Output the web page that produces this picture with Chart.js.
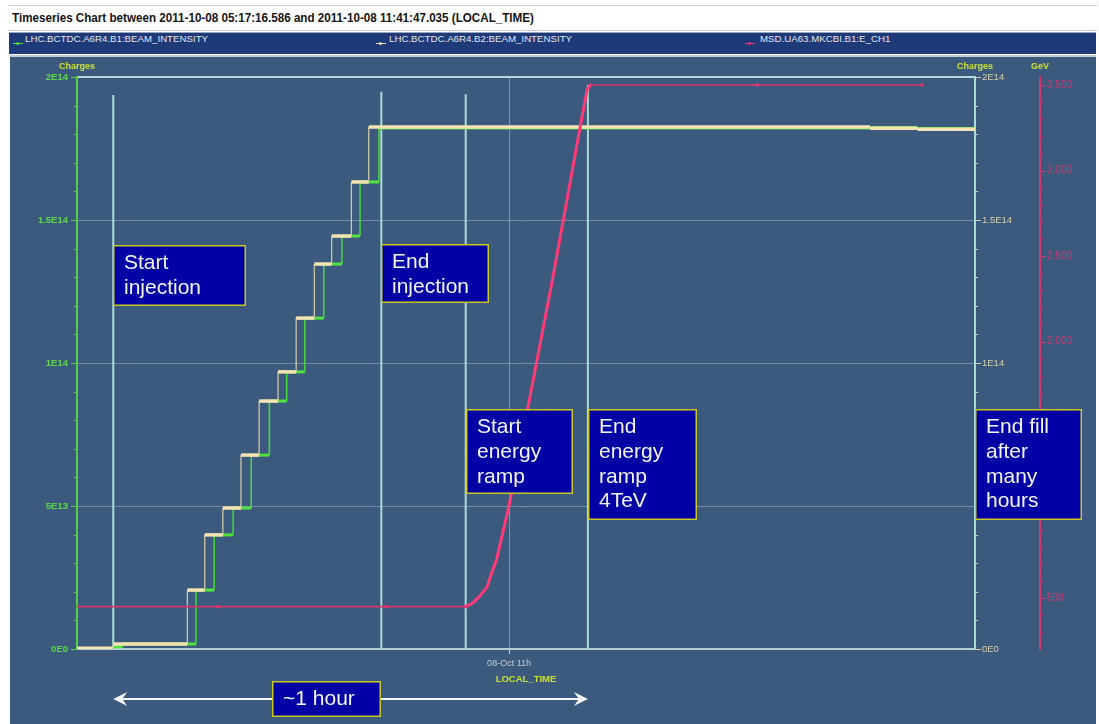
<!DOCTYPE html>
<html>
<head>
<meta charset="utf-8">
<script src="https://cdn.jsdelivr.net/npm/chart.js@4.4.1/dist/chart.umd.min.js"></script>
<style>
  html, body { margin: 0; padding: 0; background: #fff; width: 1099px; height: 724px; overflow: hidden; }
  #titlebar { position: absolute; left: 8px; top: 5px; width: 1089px; height: 24px; border-top: 1px solid #c9ced6; border-bottom: 1px solid #c9ced6; }
  #title { position: absolute; left: 12px; top: 10px; font: bold 13px "Liberation Sans Narrow", "Liberation Sans", Arial, sans-serif; color: #141414; white-space: nowrap; transform-origin: left top; }
  #legend { position: absolute; left: 9px; top: 32px; width: 1087px; height: 21px; background: #1f3a78; border-top: 1px solid #9aa6c0; }
  .item { position: absolute; top: 0; height: 21px; line-height: 21px; font: 9.7px "Liberation Sans", Arial, sans-serif; color: #e2e6f0; white-space: nowrap; }
  .mk { position: absolute; top: 10px; width: 10px; height: 1px; }
  .mk b { position: absolute; left: 3px; top: -1px; width: 3px; height: 3px; border-radius: 2px; }
  #panel { position: absolute; left: 10px; top: 55px; width: 1086px; height: 667px; background: #3c5a7e; border-top: 2px solid #c3cbd5; }
  #wrap { position: absolute; left: 0; top: 0; width: 1099px; height: 724px; }
</style>
</head>
<body>
<div id="titlebar"></div>
<div id="title">Timeseries Chart between 2011-10-08 05:17:16.586 and 2011-10-08 11:41:47.035 (LOCAL_TIME)</div>
<div id="legend">
  <span class="mk" style="left:4px;background:#4ee03c"><b style="background:#4ee03c"></b></span>
  <span class="item" style="left:16px">LHC.BCTDC.A6R4.B1:BEAM_INTENSITY</span>
  <span class="mk" style="left:367px;background:#f0e2b0"><b style="background:#f0e2b0"></b></span>
  <span class="item" style="left:380px">LHC.BCTDC.A6R4.B2:BEAM_INTENSITY</span>
  <span class="mk" style="left:736px;background:#e8336e"><b style="background:#e8336e"></b></span>
  <span class="item" style="left:751px">MSD.UA63.MKCBI.B1:E_CH1</span>
</div>
<div id="panel"></div>
<div id="wrap"><canvas id="chart" width="1099" height="724"></canvas></div>
<script>
// time axis in minutes after 10:00 local time
const timeStart = 5.2;
const timeEnd = 119.1;
const timeTicks = [60];
const timeTickLabels = ['08-Oct 11h'];

const chargeTicks = [0, 5e13, 1e14, 1.5e14, 2e14];
const gevMin = 202;
const gevMax = 3547;
const gevTicks = [500, 1000, 1500, 2000, 2500, 3000, 3500];

// beam intensity, step changes (time, new level)
const b1Times = [5.2, 9.8, 11.0, 20.3, 22.6, 25.0, 27.3, 29.6, 31.8, 34.1, 36.5, 38.8, 41.1, 43.5, 105.8, 111.8];
const b1Values = [0.2e12, 0.8e12, 1.75e12, 2.06e13, 3.99e13, 4.93e13, 6.78e13, 8.67e13, 9.69e13, 1.157e14, 1.346e14, 1.444e14, 1.633e14, 1.822e14, 1.823e14, 1.82e14];

const b2Times = [5.2, 9.8, 19.2, 21.4, 23.7, 26.0, 28.3, 30.7, 33.0, 35.3, 37.5, 40.0, 42.2, 105.8, 111.8];
const b2Values = [0.3e12, 1.75e12, 2.06e13, 3.99e13, 4.93e13, 6.78e13, 8.67e13, 9.69e13, 1.157e14, 1.346e14, 1.444e14, 1.633e14, 1.825e14, 1.821e14, 1.817e14];

// beam energy (GeV)
const energyTimes = [5.2, 23.1, 44.4, 54.5, 55.4, 56.3, 57.2, 57.8, 58.4, 60.0, 65.5, 69.0, 69.9, 70.3, 91.5, 112.4];
const energyValues = [450, 450, 450, 450, 471, 512, 564, 646, 722, 1040, 2360, 3250, 3470, 3500, 3500, 3500];

// event markers
const markerTimes = [9.8, 43.8, 54.5, 70.0];
const markerTops = [1.937e14, 1.948e14, 1.94e14, 1.972e14];

const FONT = '"Liberation Sans", Arial, sans-serif';

// fit title to its width in the original
const titleEl = document.getElementById('title');
titleEl.style.transform = `scaleX(${522 / titleEl.scrollWidth})`;

function stepPoints(times, values, end) {
    const pts = [];
    times.forEach((t, i) => {
        if (i > 0) pts.push({ x: t, y: values[i - 1] });
        pts.push({ x: t, y: values[i] });
    });
    pts.push({ x: end, y: values[values.length - 1] });
    return pts;
}

const markerPoints = [];
markerTimes.forEach((t, i) => {
    markerPoints.push({ x: t, y: 0 }, { x: t, y: markerTops[i] }, { x: t, y: null });
});

const isVertical = c => c.p0.parsed.x === c.p1.parsed.x;

function fmtCharge(v) {
    if (v === 0) return '0E0';
    return v.toExponential().replace('e+', 'E');
}

const notes = [
    { lines: ['Start', 'injection'], at: markerTimes[0], top: 1.413e14, w: 133, h: 61 },
    { lines: ['End', 'injection'], at: markerTimes[1], top: 1.416e14, w: 108, h: 59 },
    { lines: ['Start', 'energy', 'ramp'], at: markerTimes[2], top: 0.839e14, w: 107, h: 85 },
    { lines: ['End', 'energy', 'ramp', '4TeV'], at: markerTimes[3], top: 0.839e14, w: 109, h: 111 },
    { lines: ['End fill', 'after', 'many', 'hours'], at: timeEnd, top: 0.839e14, w: 107, h: 111 }
];

function drawNote(ctx, left, top, w, h, lines) {
    ctx.fillStyle = '#0000a4';
    ctx.fillRect(left, top, w, h);
    ctx.strokeStyle = '#c8c81e';
    ctx.lineWidth = 1.5;
    ctx.strokeRect(left + 0.75, top + 0.75, w - 1.5, h - 1.5);
    ctx.fillStyle = '#f4f4ff';
    ctx.font = '21px ' + FONT;
    ctx.textAlign = 'left';
    ctx.textBaseline = 'middle';
    lines.forEach((s, i) => ctx.fillText(s, left + 11, top + 18.5 + i * 24.7));
}

// short ticks, longer on multiples of major
function tickMarks(ctx, scale, from, to, step, major, xEdge, dir, color) {
    ctx.strokeStyle = color;
    ctx.lineWidth = 1;
    for (let v = from; v <= to + step / 2; v += step) {
        const r = v / major;
        const isMajor = Math.abs(r - Math.round(r)) < 1e-6;
        const py = Math.round(scale.getPixelForValue(v)) + 0.5;
        const len = isMajor ? 6 : 3;
        ctx.beginPath();
        ctx.moveTo(xEdge, py);
        ctx.lineTo(xEdge + dir * len, py);
        ctx.stroke();
    }
}

const overlay = {
    id: 'overlay',
    afterDraw(chart) {
        const { ctx, chartArea: a, scales: { x, y, y2, y3 } } = chart;
        ctx.save();

        tickMarks(ctx, y, 0, 2e14, 1e13, 5e13, a.left, -1, '#55d24a');
        tickMarks(ctx, y2, 0, 2e14, 1e13, 5e13, a.right, 1, '#cfcca8');
        tickMarks(ctx, y3, 300, 3500, 100, 500, y3.left, 1, '#d0386e');

        ctx.strokeStyle = '#c6ccd4';
        timeTicks.forEach(t => {
            const px = Math.round(x.getPixelForValue(t)) + 0.5;
            ctx.beginPath();
            ctx.moveTo(px, a.bottom);
            ctx.lineTo(px, a.bottom + 5);
            ctx.stroke();
        });

        // axis titles
        ctx.font = 'bold 9px ' + FONT;
        ctx.fillStyle = '#c9e033';
        ctx.textAlign = 'center';
        ctx.textBaseline = 'middle';
        ctx.fillText('Charges', a.left, 67);
        ctx.fillText('Charges', a.right, 67);
        ctx.fillText('GeV', y3.left, 67);
        ctx.font = 'bold 9.5px ' + FONT;
        ctx.fillText('LOCAL_TIME', (a.left + a.right) / 2, a.bottom + 30);

        // one hour arrow
        const ax0 = x.getPixelForValue(markerTimes[0]);
        const ax1 = x.getPixelForValue(markerTimes[3]);
        const ay = a.bottom + 50;
        ctx.strokeStyle = '#f4f6fa';
        ctx.fillStyle = '#f4f6fa';
        ctx.lineWidth = 2;
        ctx.beginPath();
        ctx.moveTo(ax0 + 6, ay);
        ctx.lineTo(ax1 - 6, ay);
        ctx.stroke();
        [[ax0, 1], [ax1, -1]].forEach(([px, d]) => {
            ctx.beginPath();
            ctx.moveTo(px, ay);
            ctx.lineTo(px + d * 14, ay - 7);
            ctx.lineTo(px + d * 9, ay);
            ctx.lineTo(px + d * 14, ay + 7);
            ctx.closePath();
            ctx.fill();
        });

        notes.forEach(n => {
            drawNote(ctx, Math.round(x.getPixelForValue(n.at)), Math.round(y.getPixelForValue(n.top)), n.w, n.h, n.lines);
        });
        drawNote(ctx, Math.round(x.getPixelForValue(29.9)), a.bottom + 32, 109, 36, ['~1 hour']);

        ctx.restore();
    }
};

new Chart(document.getElementById('chart'), {
    type: 'line',
    data: {
        datasets: [
            {
                label: 'MSD.UA63.MKCBI.B1:E_CH1',
                yAxisID: 'y3',
                data: energyTimes.map((t, i) => ({ x: t, y: energyValues[i] })),
                borderColor: '#e8336e',
                pointRadius: c => (c.raw && (c.raw.y === 450 || c.raw.y === 3500)) ? 1.8 : 0,
                pointBorderWidth: 0,
                pointBackgroundColor: '#e8336e',
                segment: {
                    borderWidth: c => c.p0.parsed.y === c.p1.parsed.y ? 1.6 : 3,
                    borderColor: c => c.p0.parsed.y === c.p1.parsed.y ? '#d8336c' : '#ff3a78'
                }
            },
            {
                label: 'LHC.BCTDC.A6R4.B2:BEAM_INTENSITY',
                yAxisID: 'y',
                data: stepPoints(b2Times, b2Values, timeEnd),
                pointRadius: 0,
                borderCapStyle: 'butt',
                segment: {
                    borderWidth: c => isVertical(c) ? 1.3 : 3.5,
                    borderColor: c => isVertical(c) ? '#cdc8a4' : '#f4e4b2'
                }
            },
            {
                label: 'LHC.BCTDC.A6R4.B1:BEAM_INTENSITY',
                yAxisID: 'y',
                data: stepPoints(b1Times, b1Values, timeEnd),
                pointRadius: 0,
                borderCapStyle: 'butt',
                segment: {
                    borderWidth: c => isVertical(c) ? 1.5 : 3,
                    borderColor: c => isVertical(c) ? '#46d83a' : '#52e23e'
                }
            },
            {
                label: 'markers',
                yAxisID: 'y',
                data: markerPoints,
                borderColor: '#a9ddd3',
                borderWidth: 2,
                pointRadius: 0,
                spanGaps: false
            }
        ]
    },
    options: {
        responsive: false,
        animation: false,
        events: [],
        layout: { padding: { top: 77, left: 0, right: 0, bottom: 0 } },
        elements: { line: { tension: 0 } },
        plugins: { legend: { display: false }, tooltip: { enabled: false } },
        scales: {
            x: {
                type: 'linear',
                position: 'bottom',
                min: timeStart,
                max: timeEnd,
                afterFit: s => { s.height = 75; },
                afterBuildTicks: s => { s.ticks = timeTicks.map(v => ({ value: v })); },
                ticks: {
                    callback: (v, i) => timeTickLabels[i],
                    color: '#c6ccd4',
                    font: { family: FONT, size: 9 },
                    padding: 9,
                    maxRotation: 0,
                    autoSkip: false
                },
                grid: { color: 'rgba(205,215,230,0.45)', lineWidth: 1, drawTicks: false },
                border: { color: '#b4cdd2', width: 2 }
            },
            y: {
                position: 'left',
                min: 0,
                max: 2e14,
                afterFit: s => { s.width = 77; },
                afterBuildTicks: s => { s.ticks = chargeTicks.map(v => ({ value: v })); },
                ticks: {
                    callback: v => fmtCharge(v),
                    color: '#5fd650',
                    font: { family: FONT, size: 9.5, weight: 'bold' },
                    padding: 9
                },
                grid: {
                    drawTicks: false,
                    color: c => c.tick.value === 2e14 ? '#b9d5da' : (c.tick.value === 0 ? 'rgba(0,0,0,0)' : 'rgba(205,215,230,0.4)'),
                    lineWidth: c => c.tick.value === 2e14 ? 2 : 1
                },
                border: { color: '#52d04a', width: 2 }
            },
            y2: {
                position: 'right',
                min: 0,
                max: 2e14,
                afterFit: s => { s.width = 65; },
                afterBuildTicks: s => { s.ticks = chargeTicks.map(v => ({ value: v })); },
                ticks: {
                    callback: v => fmtCharge(v),
                    color: '#d6d2ac',
                    font: { family: FONT, size: 9.5 },
                    padding: 7
                },
                grid: { drawOnChartArea: false, drawTicks: false },
                border: { color: '#a8dcd4', width: 2 }
            },
            y3: {
                position: 'right',
                min: gevMin,
                max: gevMax,
                afterFit: s => { s.width = 59; },
                afterBuildTicks: s => { s.ticks = gevTicks.map(v => ({ value: v })); },
                ticks: {
                    callback: v => v.toLocaleString('en-US'),
                    color: '#d0386e',
                    font: { family: FONT, size: 10 },
                    padding: 7
                },
                grid: { drawOnChartArea: false, drawTicks: false },
                border: { color: '#d0386e', width: 2 }
            }
        }
    },
    plugins: [overlay]
});
</script>
</body>
</html>
